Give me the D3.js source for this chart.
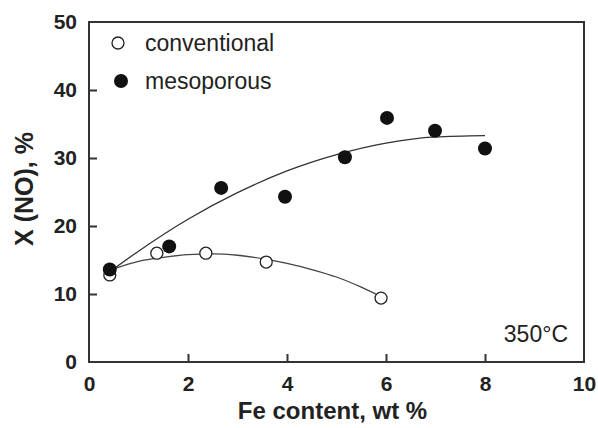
<!DOCTYPE html>
<html>
<head>
<meta charset="utf-8">
<script src="https://cdn.jsdelivr.net/npm/d3@7"></script>
<style>
  body { margin: 0; background: #fff; }
  text { font-family: "Liberation Sans", Arial, Helvetica, sans-serif; fill: #222; }
</style>
</head>
<body>
<div id="chart"></div>
<script>
// measured points
var convX = [0.42, 1.37, 2.36, 3.58, 5.9];
var convY = [12.8, 16.0, 16.0, 14.7, 9.4];
var mesoX = [0.42, 1.62, 2.67, 3.96, 5.17, 6.02, 6.99, 8.0];
var mesoY = [13.6, 17.0, 25.6, 24.3, 30.1, 35.9, 34.0, 31.4];

// fitted trend lines
var convFitX = [0.5, 1, 1.5, 2, 2.5, 3, 3.5, 4, 4.5, 5, 5.5, 5.9];
var convFitY = [13.7, 14.8, 15.4, 15.8, 15.9, 15.7, 15.2, 14.5, 13.6, 12.5, 11.0, 9.6];
var mesoFitX = [0.5, 1, 2, 3, 4, 5, 6, 7, 8];
var mesoFitY = [13.7, 16.3, 21.0, 24.9, 28.1, 30.5, 32.2, 33.1, 33.3];

var xTicks = [0, 2, 4, 6, 8, 10];
var yTicks = [0, 10, 20, 30, 40, 50];

var margin = {top: 22, right: 14, bottom: 66, left: 89},
    width = 598 - margin.left - margin.right,
    height = 428 - margin.top - margin.bottom;

var svg = d3.select("#chart")
  .append("svg")
    .attr("width", 598)
    .attr("height", 428)
  .append("g")
    .attr("transform", "translate(" + margin.left + "," + margin.top + ")");

var x = d3.scaleLinear().domain([0, 10]).range([0, width]);
var y = d3.scaleLinear().domain([0, 50]).range([height, 0]);

// frame
svg.append("rect")
  .attr("width", width)
  .attr("height", height)
  .attr("fill", "none")
  .attr("stroke", "#333")
  .attr("stroke-width", 2);

// axes, ticks pointing inward
var xAxis = svg.append("g")
  .attr("transform", "translate(0," + height + ")")
  .call(d3.axisBottom(x).tickValues(xTicks).tickSize(-8).tickPadding(14).tickFormat(d3.format("d")));
var yAxis = svg.append("g")
  .call(d3.axisLeft(y).tickValues(yTicks).tickSize(-8).tickPadding(12).tickFormat(d3.format("d")));

[xAxis, yAxis].forEach(function(a) {
  a.select(".domain").remove();
  a.selectAll(".tick line").attr("stroke", "#333").attr("stroke-width", 2);
  a.selectAll(".tick text")
    .attr("fill", "#222")
    .style("font-size", "21px")
    .style("font-weight", "bold");
});
// no tick marks at the frame corners
xAxis.selectAll(".tick").filter(function(d) { return d === 0 || d === 10; }).select("line").remove();
yAxis.selectAll(".tick").filter(function(d) { return d === 0 || d === 50; }).select("line").remove();

// axis titles
svg.append("text")
  .attr("x", width / 2 - 4)
  .attr("y", height + 57)
  .attr("text-anchor", "middle")
  .style("font-size", "24px")
  .style("font-weight", "bold")
  .text("Fe content, wt %");

svg.append("text")
  .attr("transform", "translate(" + (33 - margin.left) + "," + (189 - margin.top) + ") rotate(-90)")
  .attr("text-anchor", "middle")
  .style("font-size", "25px")
  .style("font-weight", "bold")
  .text("X (NO), %");

// trend lines
var line = d3.line()
  .x(function(d) { return x(d[0]); })
  .y(function(d) { return y(d[1]); })
  .curve(d3.curveMonotoneX);

svg.append("path")
  .datum(d3.zip(convFitX, convFitY))
  .attr("d", line)
  .attr("fill", "none")
  .attr("stroke", "#444")
  .attr("stroke-width", 1.3);

svg.append("path")
  .datum(d3.zip(mesoFitX, mesoFitY))
  .attr("d", line)
  .attr("fill", "none")
  .attr("stroke", "#333")
  .attr("stroke-width", 1.3);

// points
svg.selectAll(".conv")
  .data(d3.zip(convX, convY))
  .enter().append("circle")
    .attr("class", "conv")
    .attr("cx", function(d) { return x(d[0]); })
    .attr("cy", function(d) { return y(d[1]); })
    .attr("r", 6)
    .attr("fill", "#fff")
    .attr("stroke", "#222")
    .attr("stroke-width", 1.3);

svg.selectAll(".meso")
  .data(d3.zip(mesoX, mesoY))
  .enter().append("circle")
    .attr("class", "meso")
    .attr("cx", function(d) { return x(d[0]); })
    .attr("cy", function(d) { return y(d[1]); })
    .attr("r", 7)
    .attr("fill", "#111");

// legend
svg.append("circle")
  .attr("cx", 118 - margin.left)
  .attr("cy", 43 - margin.top)
  .attr("r", 6)
  .attr("fill", "#fff")
  .attr("stroke", "#222")
  .attr("stroke-width", 1.3);
svg.append("text")
  .attr("x", 145 - margin.left)
  .attr("y", 51 - margin.top)
  .style("font-size", "23px")
  .text("conventional");

svg.append("circle")
  .attr("cx", 121 - margin.left)
  .attr("cy", 81 - margin.top)
  .attr("r", 7)
  .attr("fill", "#111");
svg.append("text")
  .attr("x", 145 - margin.left)
  .attr("y", 89 - margin.top)
  .style("font-size", "23px")
  .text("mesoporous");

// temperature label
svg.append("text")
  .attr("x", width - 16)
  .attr("y", height - 20)
  .attr("text-anchor", "end")
  .style("font-size", "23px")
  .text("350\u00B0C");
</script>
</body>
</html>
